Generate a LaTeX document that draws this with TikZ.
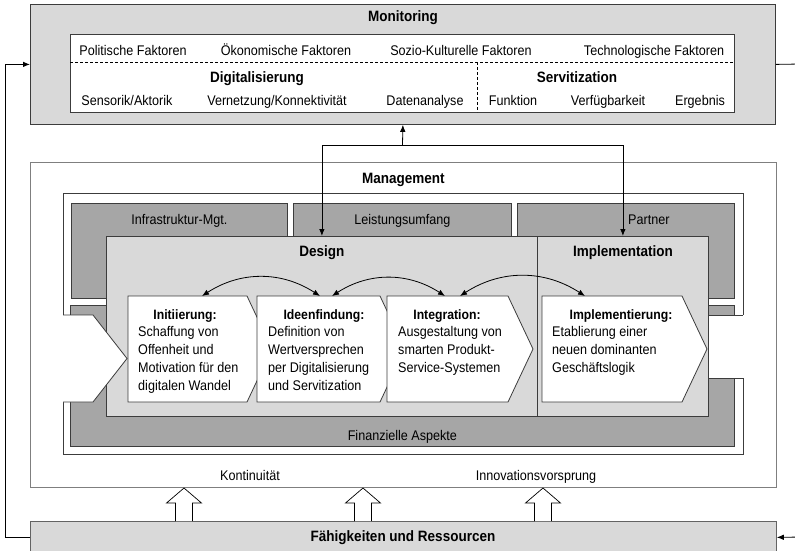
\documentclass[tikz,border=0pt]{standalone}
\usepackage{fontspec}
\setmainfont{Liberation Sans}[FakeStretch=0.9]
\usetikzlibrary{positioning,arrows.meta}
\definecolor{lightfill}{HTML}{D9D9D9}
\definecolor{darkfill}{HTML}{A6A6A6}
\definecolor{boxline}{HTML}{3C3C3C}
\definecolor{mgtline}{HTML}{7F7F7F}

\begin{document}
\begin{tikzpicture}[x=1pt, y=1pt,
    font=\fontsize{14}{18}\selectfont,
    >={Latex[length=7pt,width=5.5pt]},
    lbl/.style={inner sep=0pt, text height=10pt, text depth=0pt},
    head/.style={lbl, font=\fontsize{15}{18}\selectfont\bfseries},
    stephead/.style={lbl, font=\fontsize{13.6}{18}\selectfont\bfseries},
    stepbody/.style={inner sep=0pt, align=left, anchor=north west},
    area/.style={anchor=north west, inner sep=0pt, line width=0.8pt},
    lightbox/.style={area, draw=boxline, fill=lightfill},
    whitebox/.style={area, draw=boxline, fill=white},
    darkbox/.style={area, draw=boxline, fill=darkfill},
    stepbox/.style={draw=boxline, fill=white, line width=0.8pt},
    dashline/.style={draw=black, line width=0.6pt, dash pattern=on 3pt off 2pt},
    link/.style={line width=0.8pt},
    blockarrow/.style={draw=black, fill=white, line width=0.7pt}]

  \useasboundingbox (0,0) rectangle (795,-550);

  % Monitoring
  \node[lightbox, minimum width=745, minimum height=120] (monitoring) at (30,-4) {};
  \node[head] (montitle) at (403,-16) {Monitoring};
  \node[whitebox, minimum width=664, minimum height=78] (factors) at (70,-34) {};
  \draw[dashline] (70,-62) -- (734,-62);
  \draw[dashline] (477,-62) -- (477,-112);

  \node[lbl] (pol) at (133,-50) {Politische Faktoren};
  \node[lbl] (oek) at (286,-50) {Ökonomische Faktoren};
  \node[lbl] (soz) at (461,-50) {Sozio-Kulturelle Faktoren};
  \node[lbl] (tech) at (654,-50) {Technologische Faktoren};

  \node[head] (digi) at (257,-77.5) {Digitalisierung};
  \node[head] (serv) at (577,-77.5) {Servitization};

  \node[lbl] (sens) at (127,-100) {Sensorik/Aktorik};
  \node[lbl] (vern) at (277,-100) {Vernetzung/Konnektivität};
  \node[lbl] (daten) at (425,-100) {Datenanalyse};
  \node[lbl] (funk) at (513,-100) {Funktion};
  \node[lbl] (verf) at (608,-100) {Verfügbarkeit};
  \node[lbl] (erg) at (700,-100) {Ergebnis};

  % Management
  \node[area, draw=mgtline, fill=white, minimum width=746, minimum height=325] (management) at (30,-162) {};
  \node[head, below=11.5pt of management.north] (mgttitle) {Management};
  \node[whitebox, minimum width=680, minimum height=261] (frame) at (63,-193) {};

  \node[darkbox, minimum width=216, minimum height=95] (infra) at (71,-203) {};
  \node[darkbox, minimum width=218, minimum height=95] (leistung) at (293,-203) {};
  \node[darkbox, minimum width=217, minimum height=95] (partner) at (517,-203) {};
  \node[darkbox, minimum width=664, minimum height=141] (finanz) at (70,-305) {};

  \node[lbl, below=11pt of infra.north] {Infrastruktur-Mgt.};
  \node[lbl, below=11pt of leistung.north] {Leistungsumfang};
  \node[lbl, below=11pt of partner.north, xshift=23pt] {Partner};
  \node[lbl, above=6.5pt of finanz.south] {Finanzielle Aspekte};

  % outlet right
  \fill[white] (708,-315) rectangle (746,-378);
  \draw[link, draw=boxline] (708,-315) -- (743,-315) (708,-378) -- (743,-378);

  \node[lightbox, minimum width=431, minimum height=180] (design) at (106,-236) {};
  \node[lightbox, minimum width=171, minimum height=180] (impl) at (537,-236) {};
  \node[head, below=10.5pt of design.north] {Design};
  \node[head, below=10.5pt of impl.north] {Implementation};

  % inlet left
  \fill[white] (61.5,-315) -- (93,-315) -- (127,-358.5) -- (93,-402) -- (61.5,-402) -- cycle;
  \draw[link, draw=boxline] (63,-315) -- (93,-315) -- (127,-358.5) -- (93,-402) -- (63,-402);

  % Phasen
  \draw[stepbox] (128,-296) -- (247,-296) -- (272,-349) -- (247,-402) -- (128,-402) -- cycle;
  \draw[stepbox] (257,-296) -- (380,-296) -- (405,-349) -- (380,-402) -- (257,-402) -- cycle;
  \draw[stepbox] (387,-296) -- (508,-296) -- (533,-349) -- (508,-402) -- (387,-402) -- cycle;
  \draw[stepbox] (542,-296) -- (682,-296) -- (707,-349) -- (682,-402) -- (542,-402) -- cycle;

  \node[stephead] (init) at (185,-314) {Initiierung:};
  \node[stepbody] (initbody) at (138,-326.5) {Schaffung von\\Offenheit und\\Motivation für den\\digitalen Wandel};
  \node[stephead] (idee) at (324,-314) {Ideenfindung:};
  \node[stepbody] (ideebody) at (268,-326.5) {Definition von\\Wertversprechen\\per Digitalisierung\\und Servitization};
  \node[stephead] (integ) at (447,-314) {Integration:};
  \node[stepbody] (integbody) at (398,-326.5) {Ausgestaltung von\\smarten Produkt-\\Service-Systemen};
  \node[stephead] (implem) at (621,-314) {Implementierung:};
  \node[stepbody] (implembody) at (552,-326.5) {Etablierung einer\\neuen dominanten\\Geschäftslogik};

  \coordinate (c1) at (202,-296);
  \coordinate (c2) at (320,-296);
  \coordinate (c3) at (332,-296);
  \coordinate (c4) at (445,-296);
  \coordinate (c5) at (460,-296);
  \coordinate (c6) at (585,-296);
  \draw[link, <->] (c1) to[bend left=33] (c2);
  \draw[link, <->] (c3) to[bend left=33] (c4);
  \draw[link, <->] (c5) to[bend left=33] (c6);

  % Monitoring <-> Management
  \coordinate (hub) at (402.5,-145);
  \draw[link, ->] (hub) -- (monitoring.south);
  \draw[link, ->] (hub) -| (design.north);
  \draw[link, ->] (hub) -| (impl.north);

  % Fähigkeiten und Ressourcen
  \node[lbl] (kont) at (250,-475) {Kontinuität};
  \node[lbl] (innov) at (536,-475) {Innovationsvorsprung};
  \node[area, draw=boxline!80, fill=lightfill, minimum width=746, minimum height=32] (faehig) at (30,-521) {};
  \node[head] (faehigtitle) at (403,-536.5) {Fähigkeiten und Ressourcen};

  \foreach \c in {184,363,543}
    \draw[blockarrow] ({\c-8.5},-521) -- ({\c-8.5},-503) -- ({\c-17.5},-503) -- (\c,-488)
      -- ({\c+17.5},-503) -- ({\c+8.5},-503) -- ({\c+8.5},-521);

  \coordinate (rightout) at (800,-64);
  \coordinate (rightin) at (800,-537);
  \draw[link, ->] (faehig.west) -- ++(-25,0) |- (monitoring.west);
  \draw[link] (monitoring.east) -- (rightout);
  \draw[link, ->] (rightin) -- (faehig.east);
\end{tikzpicture}
\end{document}
